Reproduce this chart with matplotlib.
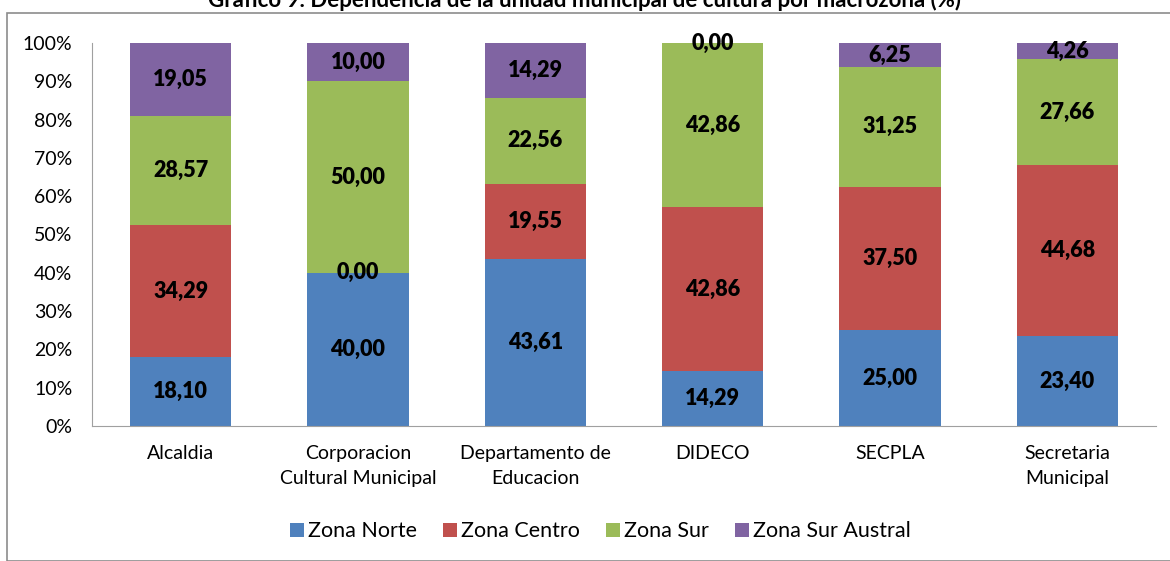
import matplotlib
matplotlib.use("Agg")
import matplotlib.pyplot as plt
from matplotlib.patches import Rectangle
import numpy as np

categories = ["Alcaldia", "Corporacion\nCultural Municipal", "Departamento de\nEducacion",
              "DIDECO", "SECPLA", "Secretaria\nMunicipal"]
series_names = ["Zona Norte", "Zona Centro", "Zona Sur", "Zona Sur Austral"]
zona_norte = [18.10, 40.00, 43.61, 14.29, 25.00, 23.40]
zona_centro = [34.29, 0.00, 19.55, 42.86, 37.50, 44.68]
zona_sur = [28.57, 50.00, 22.56, 42.86, 31.25, 27.66]
zona_sur_austral = [19.05, 10.00, 14.29, 0.00, 6.25, 4.26]
colors = ["#4F81BD", "#C0504D", "#9BBB59", "#8064A2"]

plt.rcParams['font.family'] = ['Lato', 'DejaVu Sans']

fig = plt.figure(figsize=(11.7, 5.61), dpi=100)
ax = fig.add_axes([0.0786, 0.2406, 0.9094, 0.6828])

# grey outer frame
fig.patches.append(Rectangle((7 / 1170, 0), 1.0, 1 - 13 / 561, transform=fig.transFigure,
                             fill=False, edgecolor="#8c8c8c", linewidth=1.2))

fig.text(0.5, 1.0, "Gráfico 9: Dependencia de la unidad municipal de cultura por macrozona (%)",
         ha="center", va="center", fontsize=16, fontweight="bold")

x = np.arange(len(categories))
bottom = np.zeros(len(categories))
for name, vals, c in zip(series_names, [zona_norte, zona_centro, zona_sur, zona_sur_austral], colors):
    vals = np.array(vals)
    ax.bar(x, vals, 0.57, bottom=bottom, color=c, label=name)
    for xi, b, v in zip(x, bottom, vals):
        ax.text(xi, b + v / 2, f"{v:.2f}".replace(".", ","), ha="center", va="center",
                fontsize=15.5, fontweight="heavy", color="black")
    bottom += vals

ax.set_xlim(-0.5, len(categories) - 0.5)
ax.set_ylim(0, 100)
ax.set_yticks(np.arange(0, 101, 10))
ax.set_yticklabels([f"{v}%" for v in range(0, 101, 10)], fontsize=14)
ax.set_xticks(x)
ax.set_xticklabels(categories, fontsize=14, linespacing=1.55)
ax.tick_params(axis="both", length=0)
ax.tick_params(axis="y", pad=14)
ax.tick_params(axis="x", pad=14)
for s in ["top", "right"]:
    ax.spines[s].set_visible(False)
for s in ["left", "bottom"]:
    ax.spines[s].set_color("#a0a0a0")

fig.legend(loc="center", bbox_to_anchor=(0.513, 0.053), ncol=4, frameon=False,
           fontsize=15.5, handlelength=0.65, handleheight=0.65, handletextpad=0.2, columnspacing=1.2)

fig.savefig("out.png", dpi=100)
